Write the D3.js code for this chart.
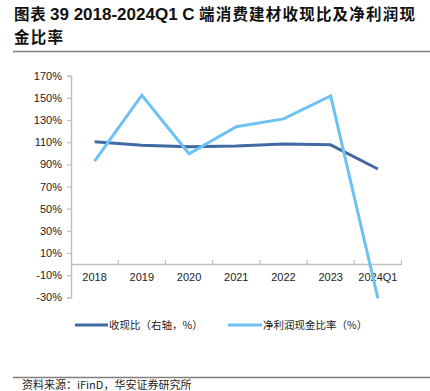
<!DOCTYPE html>
<html><head><meta charset="utf-8">
<script src="https://cdn.jsdelivr.net/npm/d3@7"></script>
<style>
html,body{margin:0;padding:0;background:#fff;overflow:hidden;}
svg{display:block;}
</style></head>
<body>
<script>
const categories = ["2018","2019","2020","2021","2022","2023","2024Q1"];
const cashRatio = [110.4, 107.2, 105.9, 106.5, 108.3, 107.6, 85.8];
const netProfitCash = [93.0, 152.4, 99.5, 124.0, 131.0, 151.8, -31.0];
const yTicks = [-30,-10,10,30,50,70,90,110,130,150,170];
const seriesNames = ["收现比（右轴，%）","净利润现金比率（%）"];
const titleParts = ["图表", "39 2018-2024Q1 C", "端消费建材收现比及净利润现"];
const title2 = "金比率";
const sourceText = "资料来源：iFinD，华安证券研究所";

const W = 430, H = 391;
const svg = d3.select("body").append("svg").attr("width", W).attr("height", H);
const font = "'Liberation Sans', Arial, sans-serif";
const cjk = "'Noto Sans CJK SC', sans-serif";

// title
const t1 = svg.append("text").attr("y", 20).attr("fill", "#111");
t1.append("tspan").attr("x", 14).attr("font-family", cjk).attr("font-size", 15.5).attr("font-weight", "bold")
  .attr("letter-spacing", 0.8).text(titleParts[0]);
t1.append("tspan").attr("x", 50).attr("font-family", font).attr("font-size", 17).attr("font-weight", "bold")
  .text(titleParts[1]);
t1.append("tspan").attr("x", 199).attr("font-family", cjk).attr("font-size", 15.5).attr("font-weight", "bold")
  .attr("letter-spacing", 1.2).text(titleParts[2]);
svg.append("text").attr("x", 14).attr("y", 43).attr("font-family", cjk).attr("letter-spacing", 1.2)
  .attr("font-size", 15.5).attr("font-weight", "bold").attr("fill", "#111").text(title2);
svg.append("line").attr("x1", 13).attr("x2", 430).attr("y1", 51.5).attr("y2", 51.5)
  .attr("stroke", "#7f7f7f").attr("stroke-width", 1.5);

const x = d3.scaleBand().domain(categories).range([71, 401.5]);
const y = d3.scaleLinear().domain([-30, 170]).range([297.3, 75.7]);

// y axis
const yAxis = svg.append("g").attr("transform", "translate(71,0)")
  .call(d3.axisLeft(y).tickValues(yTicks).tickSize(4).tickFormat(d => d + "%"));
yAxis.select(".domain").attr("stroke", "#bfbfbf").attr("stroke-width", 1.5);
yAxis.selectAll(".tick line").attr("stroke", "#bfbfbf").attr("stroke-width", 1.2);
yAxis.selectAll(".tick text").attr("font-family", font).attr("font-size", 11).attr("fill", "#222").attr("dx", -2);

// x axis at 0
const xAxis = svg.append("g").attr("transform", `translate(0,${y(0)})`)
  .call(d3.axisBottom(x).tickSize(0).tickPadding(9));
xAxis.select(".domain").attr("stroke", "#bfbfbf").attr("stroke-width", 1.5);
xAxis.selectAll(".tick text").attr("font-family", font).attr("font-size", 11).attr("fill", "#222");
// boundary ticks pointing up
const bounds = categories.map(c => x(c)).concat([x.range()[1]]).slice(1);
svg.append("g").selectAll("line").data(bounds).join("line")
  .attr("x1", d => d).attr("x2", d => d).attr("y1", y(0) - 4).attr("y2", y(0))
  .attr("stroke", "#bfbfbf").attr("stroke-width", 1.2);

const cx = c => x(c) + x.bandwidth() / 2;
const line = d3.line().x((d, i) => cx(categories[i])).y(d => y(d));

svg.append("path").datum(cashRatio).attr("d", line).attr("fill", "none")
  .attr("stroke", "#4169a3").attr("stroke-width", 3).attr("stroke-linejoin", "round");
svg.append("path").datum(netProfitCash).attr("d", line).attr("fill", "none")
  .attr("stroke", "#6ec2f2").attr("stroke-width", 3).attr("stroke-linejoin", "miter");

// legend
const leg = [{x1: 75, x2: 108, c: "#4169a3", t: seriesNames[0]}, {x1: 228, x2: 262, c: "#6ec2f2", t: seriesNames[1]}];
const lg = svg.append("g");
leg.forEach(l => {
  lg.append("line").attr("x1", l.x1).attr("x2", l.x2).attr("y1", 325).attr("y2", 325)
    .attr("stroke", l.c).attr("stroke-width", 3);
  lg.append("text").attr("x", l.x2 + 1).attr("y", 329).attr("font-family", cjk).attr("font-size", 10.5)
    .attr("fill", "#222").text(l.t);
});

svg.append("line").attr("x1", 13).attr("x2", 430).attr("y1", 377.5).attr("y2", 377.5)
  .attr("stroke", "#7f7f7f").attr("stroke-width", 1.5);
svg.append("text").attr("x", 22).attr("y", 389).attr("font-family", cjk).attr("font-size", 11)
  .attr("fill", "#222").text(sourceText);
</script>
</body></html>
